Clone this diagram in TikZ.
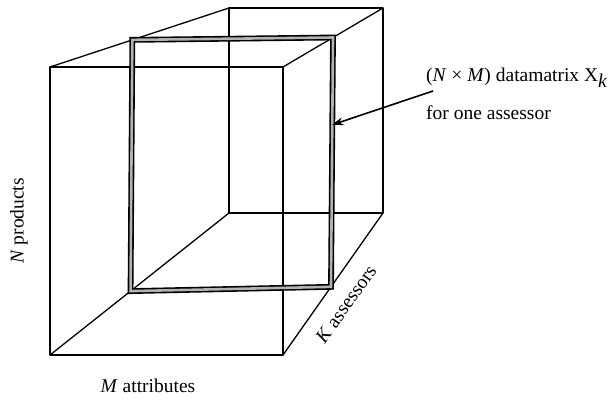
\documentclass[tikz,border=0pt]{standalone}
\usepackage{fontspec}
\setmainfont{Liberation Serif}
\usepackage{tikz}
\usetikzlibrary{calc, positioning, arrows.meta}

\begin{document}
\begin{tikzpicture}[x=1pt, y=-1pt, edge/.style={line width=1.3pt, line join=round},
  slab/.style={double=gray!60, double distance=2.6pt, line width=1.6pt, line join=miter},
  lbl/.style={font=\fontsize{19.5}{22}\selectfont, inner sep=0pt}]
\useasboundingbox (0,0) rectangle (613,399);
\coordinate (FTL) at (50,67);
\coordinate (FTR) at (283,67);
\coordinate (FBL) at (50,355);
\coordinate (FBR) at (283,355);
\coordinate (BTL) at (229,8);
\coordinate (BTR) at (383,8);
\coordinate (BBL) at (229,213);
\coordinate (BBR) at (383,213);
\coordinate (STL) at ($(FTL)!0.46!(BTL)$);
\coordinate (STR) at ($(FTR)!0.5!(BTR)$);
\coordinate (SBL) at ($(FBL)!0.45!(BBL)$);
\coordinate (SBR) at ($(FBR)!0.48!(BBR)$);
\draw[edge] (FTL) -- (FTR) -- (FBR) -- (FBL) -- cycle;
\draw[edge] (BTL) -- (BTR) -- (BBR) -- (BBL) -- cycle;
\draw[edge] (FTL) -- (BTL);
\draw[edge] (FTR) -- (BTR);
\draw[edge] (FBL) -- (BBL);
\draw[edge] (FBR) -- (BBR);
\draw[slab] (STL) -- (STR) -- (SBR) -- (SBL) -- cycle;
\node[lbl, anchor=west] (mat) at (426,78) {(\textit{N} × \textit{M}) datamatrix X$_{\textit{k}}$};
\node[lbl, anchor=west] (one) at (426,113) {for one assessor};
\coordinate (from) at (433,91);
\coordinate (hit) at ($(STR)!0.35!(SBR)$);
\draw[line width=1.6pt, -{Stealth[length=11pt, width=8pt]}] (from) -- (hit);
\node[lbl, rotate=90] (prod) at (19,221) {\textit{N} products};
\node[lbl] (attr) at (148,386) {\textit{M} attributes};
\node[lbl, rotate=54.5] (ass) at (346,304) {\textit{K} assessors};
\end{tikzpicture}
\end{document}
